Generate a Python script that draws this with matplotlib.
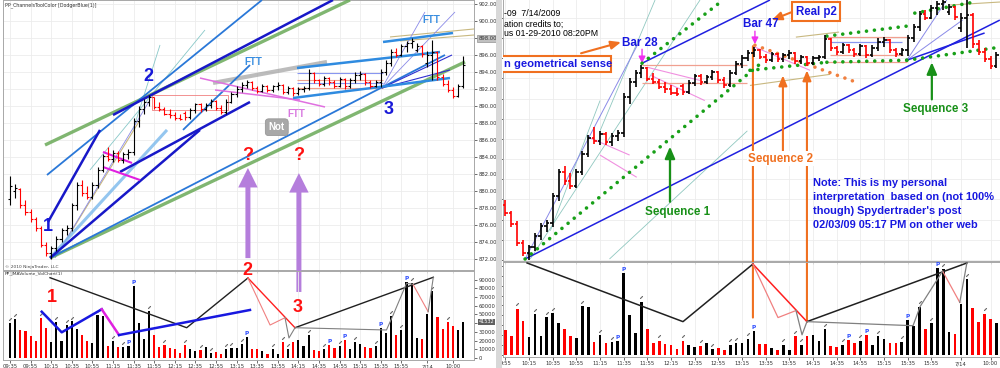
import matplotlib
matplotlib.use("Agg")
import matplotlib.pyplot as plt
from matplotlib.collections import LineCollection
from matplotlib.patches import Rectangle

# 5-minute bars, 7/13/2009 09:35 -> 7/14/2009 10:10 (bar index 0..88)
opens = [879.0, 880.0, 880.2, 878.4, 877.5, 876.7, 875.6, 873.7, 872.7, 873.3,
         874.4, 875.4, 875.7, 878.3, 880.7, 879.8, 879.3, 880.7, 882.5, 884.1,
         883.8, 884.5, 883.7, 884.3, 884.6, 888.2, 889.6, 890.5, 891.0, 889.9,
         889.6, 889.1, 888.9, 888.6, 889.2, 888.7, 889.5, 890.2, 889.6, 890.1,
         890.6, 889.8, 889.3, 890.5, 891.4, 892.0, 892.5, 892.8, 892.1, 891.8,
         892.4, 891.9, 892.3, 892.5, 891.7, 892.1, 891.5, 892.0, 892.1, 893.9,
         893.0, 892.6, 893.3, 892.8, 892.4, 893.2, 892.3, 893.0, 893.6, 893.8,
         892.8, 892.4, 892.8, 894.0, 895.1, 896.4, 896.0, 897.0, 897.4, 896.6,
         897.1, 895.0, 896.0, 896.3, 893.4, 892.6, 891.9, 891.2, 892.3]
highs = [881.8, 880.8, 880.4, 878.9, 877.9, 876.9, 875.9, 874.0, 873.5, 874.7,
         875.7, 876.0, 878.6, 881.0, 881.3, 880.6, 881.0, 882.8, 884.4, 885.2,
         884.8, 884.7, 884.6, 884.9, 888.6, 890.0, 890.8, 891.3, 891.1, 890.5,
         889.9, 889.6, 889.3, 889.0, 889.4, 889.8, 890.4, 890.4, 890.3, 890.8,
         890.7, 890.1, 890.8, 891.7, 892.3, 892.8, 893.1, 892.9, 892.4, 892.6,
         892.5, 892.5, 892.8, 892.6, 892.3, 892.2, 892.2, 892.3, 894.3, 894.0,
         893.2, 893.5, 893.4, 893.0, 893.4, 893.3, 893.3, 894.0, 894.1, 893.9,
         893.0, 893.0, 894.3, 895.4, 896.7, 896.8, 897.3, 897.7, 898.0, 897.4,
         897.2, 896.5, 897.8, 896.5, 893.8, 893.0, 892.2, 892.6, 895.9]
lows = [878.3, 879.2, 878.0, 877.2, 876.4, 875.3, 873.4, 872.4, 872.0, 872.9,
        874.0, 874.8, 875.3, 877.8, 879.4, 879.0, 879.1, 880.4, 882.2, 883.5,
        883.4, 883.4, 883.3, 883.8, 884.2, 887.5, 889.1, 890.0, 889.7, 889.4,
        888.9, 888.6, 888.4, 888.3, 888.4, 888.5, 889.2, 889.3, 889.4, 889.8,
        889.5, 889.0, 889.1, 890.3, 891.0, 891.7, 892.1, 891.9, 891.5, 891.6,
        891.6, 891.6, 891.9, 891.4, 891.4, 891.2, 891.3, 891.7, 891.9, 892.7,
        892.3, 892.4, 892.5, 892.1, 892.2, 892.0, 892.1, 892.7, 893.1, 892.5,
        892.1, 892.2, 892.2, 893.6, 894.7, 895.8, 895.9, 896.3, 896.8, 896.3,
        895.8, 894.6, 893.0, 893.0, 892.3, 891.6, 890.9, 891.0, 892.1]
closes = [880.6, 880.4, 878.4, 877.5, 876.7, 875.6, 873.7, 872.7, 873.3, 874.4,
          875.4, 875.7, 878.3, 880.7, 879.8, 879.3, 880.7, 882.5, 884.1, 883.8,
          884.5, 883.7, 884.3, 884.6, 888.2, 889.6, 890.5, 891.0, 889.9, 889.6,
          889.1, 888.9, 888.6, 888.5, 888.7, 889.5, 890.2, 889.6, 890.1, 890.6,
          889.8, 889.3, 890.5, 891.4, 892.0, 892.5, 892.8, 892.1, 891.8, 892.4,
          891.9, 892.3, 892.5, 891.7, 892.1, 891.5, 892.0, 892.1, 893.9, 893.0,
          892.6, 893.3, 892.8, 892.4, 893.2, 892.3, 893.0, 893.6, 893.8, 892.8,
          892.4, 892.8, 894.0, 895.1, 896.4, 896.0, 897.0, 897.4, 897.6, 897.1,
          896.1, 896.0, 896.3, 893.4, 892.6, 891.9, 891.2, 892.3, 894.8]
volumes = [40600, 44500, 32200, 31000, 25500, 19500, 46500, 34500, 18500, 41000,
           19300, 38400, 42000, 32800, 26200, 19300, 17500, 49000, 48100, 13600,
           20000, 12500, 13000, 13800, 82700, 40400, 21800, 53800, 26500, 12100,
           14600, 11600, 9900, 6200, 14500, 10200, 8500, 9200, 12600, 6100,
           6800, 4800, 10200, 11900, 11900, 16300, 24500, 10900, 10900, 7500,
           5100, 10200, 5100, 18700, 10200, 18700, 20400, 14300, 26200, 9500,
           8500, 10200, 15300, 11900, 14300, 20400, 10200, 18700, 16300, 12600,
           11900, 13600, 35000, 28900, 48600, 26500, 32300, 87800, 86400, 22800,
           21400, 51000, 76500, 47600, 33300, 41500, 36400, 32000, 41700]
p_bars = [23, 24, 46, 62, 65, 72, 77]
pen_bars = [0, 1, 6, 9, 11, 12, 17, 20, 22, 27, 30, 34, 37, 39, 42, 43, 45,
            51, 53, 54, 58, 61, 64, 67, 71, 74, 76, 78, 82, 85]

tick_idx = [0, 4, 8, 12, 16, 20, 24, 28, 32, 36, 40, 44, 48, 52, 56, 60, 64,
            68, 72, 76, 81, 86]
tick_lbl = ["09:35", "09:55", "10:15", "10:35", "10:55", "11:15", "11:35",
            "11:55", "12:15", "12:35", "12:55", "13:15", "13:35", "13:55",
            "14:15", "14:35", "14:55", "15:15", "15:35", "15:55", "7/14", "10:00"]
price_ticks = list(range(872, 903, 2))
vol_ticks = list(range(0, 90001, 10000))

# ---- drawing objects, left chart (bar index, price)
left_dark_blue = [((7.38, 876.35), (17.48, 887.18)), ((7.77, 872.12), (36.89, 887.18)),
                  ((21.36, 882.24), (46.60, 890.47)), ((20.0, 888.94), (62.72, 902.47))]
left_green = [((6.80, 885.41), (66.02, 902.47)), ((7.77, 872.12), (88.35, 895.18))]
left_steel = [((7.18, 881.88), (48.93, 902.47)), ((7.77, 872.12), (84.47, 896.0)),
              ((33.59, 887.18), (46.6, 894.82))]
left_channel = [((54.95, 890.94), (85.44, 893.29)), ((55.73, 894.47), (83.50, 896.35)),
                ((72.43, 897.53), (86.02, 898.59))]
left_gray = [((39.42, 892.71), (61.55, 895.18))]
left_thin_blue = [((72.23, 892.12), (85.83, 896.0)), ((72.23, 892.12), (85.44, 894.24))]
left_lavender = [((72.23, 892.12), (86.41, 901.06)), ((72.23, 892.12), (80.58, 901.06)),
                 ((8.74, 872.12), (27.18, 890.71))]
left_tan = [((73.79, 898.12), (90.1, 899.06)), ((75.73, 897.65), (90.1, 898.35)),
            ((9.71, 873.06), (25.24, 888.35))]
left_pink = [((36.89, 893.29), (61.17, 889.88)), ((39.81, 891.88), (56.31, 890.71))]
left_magenta = [((18.06, 884.59), (23.69, 883.29)), ((18.06, 882.82), (25.24, 881.29))]
left_teal = [((15.53, 882.47), (37.86, 898.94)), ((23.88, 887.18), (29.13, 897.18))]
left_lightblue = [((7.77, 872.12), (30.49, 887.18))]
left_hlines_blue = [893.88, 892.71]
left_hlines_red = [893.06, 892.12]
left_hline_span = (55.7, 72.4)
left_red_box = (27.57, 889.53, 42.33, 891.29)

# volume zigzags, left chart (bar index, volume)
lv_black = [(7.77, 92300), (34.31, 34800), (46.2, 92000)]
lv_red = [(46.2, 92000), (55.34, 34800)]
lv_black2 = [(55.34, 34800), (82.2, 92800)]
lv_pink = [(46.2, 92000), (50.5, 37900), (53.4, 46300)]
lv_gray = [(53.4, 46300), (54.17, 23000), (55.34, 34800), (73.1, 32200),
           (74.4, 49400), (77.0, 85900), (78.25, 84700)]
lv_pink2 = [(78.25, 84700), (81.2, 53200)]
lv_gray2 = [(81.2, 53200), (82.2, 92800)]
lv_blue_a = [(6.16, 53200), (10.04, 29500), (17.81, 56000)]
lv_magenta = [(17.81, 56000), (21.17, 26400)]
lv_blue_b = [(21.17, 26400), (46.6, 55200)]

# ---- drawing objects, right chart
right_blue = [((7.33, 872.1), (87.57, 895.78)), ((27.1, 891.5), (48.72, 897.77)),
              ((71.85, 891.8), (85.0, 894.5))]
right_green_dots = [((7.33, 872.1), (47.4, 891.6)), ((27.1, 891.5), (40.8, 897.77)),
                    ((58.34, 894.19), (71.85, 895.18)), ((73.2, 896.47), (83.3, 897.57)),
                    ((58.34, 891.6), (71.85, 891.8)), ((71.85, 891.8), (87.57, 893.09)),
                    ((45.34, 890.8), (58.34, 891.6))]
right_orange_dots = [((46.18, 893.29), (63.4, 889.6))]
right_lavender = [((71.85, 891.8), (78.6, 897.77)), ((71.85, 891.8), (81.3, 895.8)),
                  ((7.33, 872.1), (26.76, 893.8))]
right_tan = [((53.1, 894.09), (60.4, 894.59)), ((45.34, 889.3), (58.86, 890.4)),
             ((79.1, 897.27), (87.6, 897.57))]
right_thin = [((8.2, 872.1), (36.9, 897.77)), ((11.6, 874.9), (20.0, 887.8)),
              ((20.0, 884.8), (29.3, 897.77)), ((21.6, 872.1), (44.9, 884.8))]
right_pink = [((18.3, 884.1), (25.0, 882.4)), ((20.0, 882.4), (26.2, 880.2)),
              ((28.0, 891.1), (36.9, 889.8)), ((28.6, 890.3), (37.7, 887.8)),
              ((46.18, 893.1), (55.5, 890.8))]
right_salmon_h = [(891.3, 27.1, 44.8), (889.51, 27.1, 44.8), (894.09, 58.3, 71.9),
                  (891.6, 58.3, 71.9), (892.3, 58.8, 71.2)]
right_blue_h = [(893.59, 59.1, 71.0)]

rv_black = [(7.67, 92900), (34.02, 33700), (45.84, 91800)]
rv_red = [(45.84, 91800), (54.97, 33700)]
rv_black2 = [(54.97, 33700), (82.0, 92900)]
rv_pink = [(45.84, 91800), (50.08, 37800), (53.12, 44900)]
rv_gray = [(53.12, 44900), (54.14, 20400), (54.97, 33700), (72.9, 29600),
           (74.1, 49000), (77.9, 84700)]
rv_pink2 = [(77.9, 84700), (80.8, 53100)]
rv_gray2 = [(80.8, 53100), (82.0, 92900)]

note_lines = ["Note: This is my personal",
              "interpretation  based on (not 100%",
              "though) Spydertrader's post",
              "02/03/09 05:17 PM on other web"]
note_y = [879.66, 878.27, 876.87, 875.48]
header_lines = ["-09  7/14/2009", "ation credits to;", "us 01-29-2010 08:20PM"]
header_y = [896.42, 895.33, 894.43]

W, H = 1000.0, 368.0


def box(x0, y0, x1, y1):
    return [x0 / W, 1 - y1 / H, (x1 - x0) / W, (y1 - y0) / H]


def draw_ohlc(ax, lw, tick):
    segs, cols = [], []
    for i, (o, h, l, c) in enumerate(zip(opens, highs, lows, closes)):
        col = "black" if c >= o else "#ff0000"
        segs += [[(i, l), (i, h)], [(i - tick, o), (i, o)], [(i, c), (i + tick, c)]]
        cols += [col] * 3
    ax.add_collection(LineCollection(segs, colors=cols, linewidths=lw, zorder=5,
                                     capstyle="butt"), autolim=False)


def draw_volume(ax, width, p_off, pen_off):
    cols = ["black" if c >= o else "#ff0000" for o, c in zip(opens, closes)]
    ax.bar(range(len(volumes)), volumes, width=width, color=cols, zorder=3)
    for i in p_bars:
        ax.text(i, volumes[i] + p_off, "P", color="#3050ff", fontsize=4.2,
                fontweight="bold", ha="center", va="bottom", zorder=6)
    ax.plot(pen_bars, [volumes[i] + pen_off for i in pen_bars], ls="none",
            marker=(2, 2, -45), ms=2.6, mew=0.6, color="#707070", zorder=4)


def seg_lines(ax, lines, **kw):
    for (x0, y0), (x1, y1) in lines:
        ax.plot([x0, x1], [y0, y1], solid_capstyle="butt", **kw)


def path(ax, pts, **kw):
    ax.plot([p[0] for p in pts], [p[1] for p in pts], **kw)


def style_axes(ax):
    for s in ax.spines.values():
        s.set_color("#a8a8a8")
        s.set_linewidth(0.7)
    ax.tick_params(labelsize=3.8, length=2, width=0.5, colors="#333333", pad=1)


fig = plt.figure(figsize=(10, 3.68), dpi=100)
fig.patch.set_facecolor("white")
fig.add_artist(Rectangle((496 / W, 0), 6 / W, 1, transform=fig.transFigure,
                         facecolor="#d8d8d8", edgecolor="none"))

axp_l = fig.add_axes(box(3, 0, 474, 270))
axv_l = fig.add_axes(box(3, 271, 474, 360), sharex=axp_l)
axp_r = fig.add_axes(box(503, 0, 1000, 261))
axv_r = fig.add_axes(box(503, 262, 1000, 357), sharex=axp_r)
for ax in (axv_l, axv_r):
    ax.set_facecolor("none")

# ================= LEFT CHART =================
ax = axp_l
ax.yaxis.tick_right()
ax.set_yticks(price_ticks)
ax.set_yticklabels([f"{v:.2f}" for v in price_ticks])
ax.set_xticks(tick_idx)
ax.set_xlim(-1.36, 90.1)
ax.set_ylim(870.7, 902.47)
ax.tick_params(axis="x", labelbottom=False, length=0)
ax.grid(True, color="#ececec", lw=0.6)
ax.set_axisbelow(True)
style_axes(ax)
for lbl in ax.get_yticklabels():
    if lbl.get_text() == "898.00":
        lbl.set_bbox(dict(boxstyle="square,pad=0.15", fc="#c0c0c0", ec="#808080", lw=0.4))

seg_lines(ax, left_teal, color="#88c8c8", lw=0.6, zorder=2)
seg_lines(ax, left_tan, color="#c8b880", lw=0.8, zorder=2)
seg_lines(ax, left_lavender, color="#8a8ae8", lw=0.6, zorder=2)
seg_lines(ax, left_lightblue, color="#7ab8ec", lw=2.2, alpha=0.8, zorder=2)
seg_lines(ax, left_gray, color="#a0a0a0", lw=3.0, alpha=0.7, zorder=2)
seg_lines(ax, left_green, color="#6aaa58", lw=2.4, alpha=0.85, zorder=3)
seg_lines(ax, left_steel, color="#2a78d8", lw=1.3, zorder=3)
seg_lines(ax, left_dark_blue, color="#1818c8", lw=1.8, zorder=4)
seg_lines(ax, left_channel, color="#2f8be0", lw=1.8, zorder=4)
seg_lines(ax, left_thin_blue, color="#3030d0", lw=0.8, zorder=3)
seg_lines(ax, left_pink, color="#e070e0", lw=1.1, zorder=3)
seg_lines(ax, left_magenta, color="#e020e0", lw=1.5, zorder=4)
ax.hlines(left_hlines_blue, *left_hline_span, color="#8896f0", lw=0.8, zorder=2)
ax.hlines(left_hlines_red, *left_hline_span, color="#f0a090", lw=0.8, zorder=2)
x0, y0, x1, y1 = left_red_box
ax.add_patch(Rectangle((x0, y0), x1 - x0, y1 - y0, fill=False, ec="#f08080", lw=0.6, zorder=2))
draw_ohlc(ax, 0.8, 0.4)

ax.text(0.004, 0.992, "PP_ChannelsToolColor [DodgerBlue(1)]", transform=ax.transAxes,
        fontsize=3.4, color="#333333", va="top")
ax.text(0.004, 0.005, "\u00a9 2010 NinjaTrader, LLC", transform=ax.transAxes,
        fontsize=3.2, color="#444444", va="bottom")
big = dict(fontsize=13, fontweight="bold", ha="center", va="center", zorder=8,
           family="Liberation Sans")
ax.text(7.38, 875.8, "1", color="#1818d8", **big)
ax.text(26.8, 893.5, "2", color="#1818d8", **big)
ax.text(73.6, 889.6, "3", color="#1818d8", **big)
ax.text(46.2, 884.2, "?", color="#ff1010", **big)
ax.text(56.1, 884.2, "?", color="#ff1010", **big)
ftt = dict(fontsize=7, fontweight="bold", ha="center", va="center", zorder=8,
           family="Liberation Sans")
ax.text(47.2, 895.2, "FTT", color="#3a8ee0", **ftt)
ax.text(55.5, 889.1, "FTT", color="#d878e0", **ftt)
ax.text(81.9, 900.1, "FTT", color="#3a8ee0", **ftt)
ax.text(51.8, 887.5, "Not", color="white", fontsize=7, fontweight="bold", ha="center",
        va="center", zorder=8, family="Liberation Sans",
        bbox=dict(boxstyle="round,pad=0.35", fc="#a8a8a8", ec="#909090", lw=0.5))

purple = dict(width=3.6, headwidth=14, headlength=14, color="#b57edc", lw=0)
ax.annotate("", xy=(46.2, 882.7), xytext=(46.2, 872.1), arrowprops=purple, zorder=7)
ax.annotate("", xy=(56.1, 882.1), xytext=(56.1, 75900), textcoords=axv_l.transData,
            arrowprops=purple, annotation_clip=False, zorder=7)

ax = axv_l
ax.yaxis.tick_right()
ax.set_yticks(vol_ticks)
ax.set_xticks(tick_idx)
ax.set_xticklabels(tick_lbl)
ax.set_ylim(-2300, 100000)
ax.grid(True, axis="x", color="#ececec", lw=0.6)
ax.set_axisbelow(True)
style_axes(ax)
draw_volume(ax, 0.42, 1200, 4500)
path(ax, lv_black, color="#202020", lw=1.0, zorder=5)
path(ax, lv_black2, color="#202020", lw=1.0, zorder=5)
path(ax, lv_red, color="#ff2020", lw=1.0, zorder=5)
path(ax, lv_pink, color="#f08080", lw=0.8, zorder=5)
path(ax, lv_pink2, color="#f08080", lw=0.8, zorder=5)
path(ax, lv_gray, color="#808080", lw=0.8, zorder=5)
path(ax, lv_gray2, color="#808080", lw=0.8, zorder=5)
path(ax, lv_blue_a, color="#1818e0", lw=1.8, zorder=6)
path(ax, lv_magenta, color="#e020e0", lw=1.8, zorder=6)
path(ax, lv_blue_b, color="#1818e0", lw=1.8, zorder=6)
ax.text(0.004, 0.985, "PP_JMAVolume_VolChart(1)", transform=ax.transAxes,
        fontsize=3.2, color="#333333", va="top")
red_big = dict(big, color="#ff1010")
ax.text(8.16, 69000, "1", **red_big)
ax.text(46.0, 101000, "2", **red_big)
ax.text(55.9, 57500, "3", **red_big)
ax.text(91.0, 41532, "41532", fontsize=3.6, color="white", va="center", ha="left",
        bbox=dict(boxstyle="square,pad=0.15", fc="#606060", ec="none"),
        zorder=8, clip_on=False)
ax.set_xlim(-1.36, 90.1)

# ================= RIGHT CHART =================
ax = axp_r
ax.set_yticks(price_ticks)
ax.set_xticks(tick_idx)
ax.set_xlim(3.6, 87.6)
ax.set_ylim(871.9, 897.77)
ax.tick_params(axis="both", labelbottom=False, labelleft=False, length=0)
ax.grid(True, color="#ececec", lw=0.6)
ax.set_axisbelow(True)
style_axes(ax)
ax.spines["right"].set_visible(False)
ax.spines["top"].set_visible(False)

seg_lines(ax, right_thin, color="#90c8c0", lw=0.6, zorder=2)
seg_lines(ax, right_tan, color="#c8b880", lw=0.8, zorder=2)
seg_lines(ax, right_lavender, color="#8a8ae8", lw=0.7, zorder=2)
seg_lines(ax, right_pink, color="#f090e0", lw=0.8, zorder=2)
for y, a, b in right_salmon_h:
    ax.hlines(y, a, b, color="#f0a090", lw=0.9, zorder=2)
for y, a, b in right_blue_h:
    ax.hlines(y, a, b, color="#8896f0", lw=0.9, zorder=2)
seg_lines(ax, right_blue, color="#2020e0", lw=1.1, zorder=3)
for (xa, ya), (xb, yb) in right_green_dots:
    ax.plot([xa, xb], [ya, yb], ls=(0, (0.01, 2.2)), dash_capstyle="round",
            color="#18a018", lw=2.6, zorder=4)
for (xa, ya), (xb, yb) in right_orange_dots:
    ax.plot([xa, xb], [ya, yb], ls=(0, (0.01, 2.2)), dash_capstyle="round",
            color="#f08040", lw=2.6, zorder=4)
draw_ohlc(ax, 1.2, 0.42)

for t, y in zip(header_lines, header_y):
    ax.text(3.75, y, t, fontsize=6.3, color="black", va="center", ha="left",
            family="Liberation Sans", zorder=8)
ax.add_patch(Rectangle((3.1, 890.65), 18.76, 1.6, fc="white", ec="#f07020", lw=1.5, zorder=7))
lab = dict(fontweight="bold", ha="center", va="center", zorder=9, family="Liberation Sans")
ax.text(3.75, 891.45, "n geometrical sense", color="#1818e0", fontsize=8.1,
        **dict(lab, ha="left"))
ax.text(26.76, 893.49, "Bar 28", color="#1818e0", fontsize=8.4, **lab)
ax.text(47.2, 895.38, "Bar 47", color="#1818e0", fontsize=8.4, **lab)
ax.text(56.5, 896.62, "Real p2", color="#1818e0", fontsize=8.3,
        bbox=dict(boxstyle="square,pad=0.3", fc="white", ec="#f07020", lw=1.5), **lab)
ax.text(33.18, 876.77, "Sequence 1", color="#189018", fontsize=8.4, **lab)
ax.text(50.57, 882.05, "Sequence 2", color="#f07020", fontsize=8.4,
        bbox=dict(boxstyle="square,pad=0.1", fc="white", ec="none"), **lab)
ax.text(76.76, 886.92, "Sequence 3", color="#189018", fontsize=8.4, **lab)
for t, y in zip(note_lines, note_y):
    ax.text(55.98, y, t, color="#1818e0", fontsize=7.9, **dict(lab, ha="left"))

orange_arrow = dict(arrowstyle="-|>,head_width=0.25,head_length=0.6", color="#f07020",
                    lw=1.5, shrinkA=0, shrinkB=0)
pink_arrow = dict(arrowstyle="-|>,head_width=0.2,head_length=0.4", color="#f030f0",
                  lw=1.0, shrinkA=0, shrinkB=0)
green_arrow = dict(arrowstyle="-|>,head_width=0.3,head_length=0.7", color="#189018",
                   lw=1.6, shrinkA=0, shrinkB=0)
ax.annotate("", xy=(23.55, 893.59), xytext=(16.79, 892.49), arrowprops=orange_arrow)
ax.annotate("", xy=(49.02, 895.78), xytext=(52.4, 896.57), arrowprops=orange_arrow)
ax.annotate("", xy=(27.1, 891.5), xytext=(27.1, 892.89), arrowprops=pink_arrow)
ax.annotate("", xy=(46.18, 893.39), xytext=(46.18, 894.68), arrowprops=pink_arrow)
ax.annotate("", xy=(31.82, 883.24), xytext=(31.82, 877.77), arrowprops=green_arrow)
ax.annotate("", xy=(76.08, 891.6), xytext=(76.08, 887.92), arrowprops=green_arrow)
ax.annotate("", xy=(50.91, 890.3), xytext=(50.91, 882.84), arrowprops=orange_arrow)
ax.annotate("", xy=(54.97, 890.8), xytext=(54.97, 33700), textcoords=axv_r.transData,
            arrowprops=orange_arrow, annotation_clip=False)
ax.annotate("", xy=(45.84, 893.19), xytext=(45.84, 37800), textcoords=axv_r.transData,
            arrowprops=dict(arrowstyle="-", color="#f07020", lw=1.5, shrinkA=0, shrinkB=0),
            annotation_clip=False)

ax = axv_r
ax.set_yticks(vol_ticks)
ax.set_xticks(tick_idx)
ax.set_xticklabels(["9:55" if t == "09:55" else t for t in tick_lbl])
ax.set_ylim(-2000, 93900)
ax.tick_params(axis="y", labelleft=False, length=0)
ax.grid(True, axis="x", color="#ececec", lw=0.6)
ax.set_axisbelow(True)
style_axes(ax)
ax.spines["right"].set_visible(False)
draw_volume(ax, 0.45, 1200, 4500)
path(ax, rv_black, color="#202020", lw=1.1, zorder=5)
path(ax, rv_black2, color="#202020", lw=1.1, zorder=5)
path(ax, rv_red, color="#ff2020", lw=1.1, zorder=5)
path(ax, rv_pink, color="#f08080", lw=0.9, zorder=5)
path(ax, rv_pink2, color="#f08080", lw=0.9, zorder=5)
path(ax, rv_gray, color="#808080", lw=0.9, zorder=5)
path(ax, rv_gray2, color="#808080", lw=0.9, zorder=5)
ax.set_xlim(3.6, 87.6)

fig.savefig("out.png", dpi=100)
